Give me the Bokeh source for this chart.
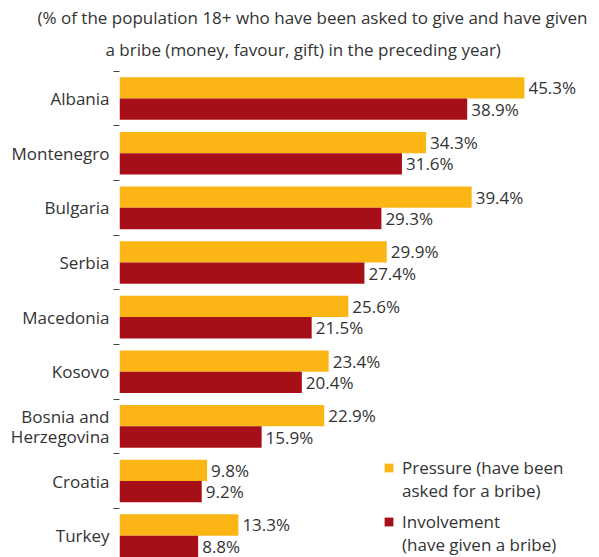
from bokeh.plotting import figure
from bokeh.models import (ColumnDataSource, Range1d, FixedTicker, Title, Legend, LegendItem)
from bokeh.transform import dodge
from bokeh.core.properties import value
from bokeh.embed import file_html
from bokeh.resources import INLINE

countries = ["Albania", "Montenegro", "Bulgaria", "Serbia", "Macedonia", "Kosovo",
             "Bosnia and\nHerzegovina", "Croatia", "Turkey"]
pressure = [45.3, 34.3, 39.4, 29.9, 25.6, 23.4, 22.9, 9.8, 13.3]
involvement = [38.9, 31.6, 29.3, 27.4, 21.5, 20.4, 15.9, 9.2, 8.8]
series_lines = [["Pressure (have been", "asked for a bribe)"],
                ["Involvement", "(have given a bribe)"]]
title_lines = ["(% of the population 18+ who have been asked to give and have given",
               "a bribe (money, favour, gift) in the preceding year)"]

YELLOW = "#FBB616"
RED = "#A70F18"
TXT = "#333333"
FONT = "Open Sans"
FS = "17px"

n = len(countries)
ypos = [n - i - 0.5 for i in range(n)]
src = ColumnDataSource(dict(
    y=ypos, pressure=pressure, involvement=involvement,
    plab=[f"{v:.1f}%" for v in pressure],
    ilab=[f"{v:.1f}%" for v in involvement],
))

BH = 0.39
p = figure(width=599, height=557, output_backend="svg", toolbar_location=None,
           x_range=Range1d(0, 53.7), y_range=Range1d(0.1, 9.05),
           min_border_left=119, min_border_right=0, min_border_top=68, min_border_bottom=0)
p.outline_line_color = None
p.xgrid.visible = False
p.ygrid.visible = False
p.xaxis.visible = False

rp = p.hbar(y=dodge("y", BH / 2, range=p.y_range), right="pressure", left=0, height=BH,
            source=src, fill_color=YELLOW, line_color=None)
ri = p.hbar(y=dodge("y", -BH / 2, range=p.y_range), right="involvement", left=0, height=BH,
            source=src, fill_color=RED, line_color=None)
# invisible renderer used only for the second line of each legend entry
blank = p.hbar(y=[], right=[], left=0, height=BH, fill_alpha=0, line_alpha=0)

p.text(x="pressure", y=dodge("y", BH / 2, range=p.y_range), text="plab", source=src,
       x_offset=4, text_baseline="middle", text_align="left",
       text_font=value(FONT), text_font_size=FS, text_color=TXT)
p.text(x="involvement", y=dodge("y", -BH / 2, range=p.y_range), text="ilab", source=src,
       x_offset=4, text_baseline="middle", text_align="left",
       text_font=value(FONT), text_font_size=FS, text_color=TXT)

ax = p.yaxis[0]
ax.ticker = FixedTicker(ticks=ypos, minor_ticks=list(range(n + 1)))
ax.major_label_overrides = {y: c for y, c in zip(ypos, countries)}
ax.axis_line_color = None
ax.major_tick_line_color = None
ax.major_tick_out = 0
ax.major_tick_in = 0
ax.minor_tick_out = 6
ax.minor_tick_in = 0
ax.minor_tick_line_color = "#444444"
ax.minor_tick_line_width = 1
ax.major_label_standoff = 4
ax.major_label_text_font = FONT
ax.major_label_text_font_size = FS
ax.major_label_text_color = TXT
ax.major_label_text_align = "right"
ax.major_label_text_line_height = 0.85

p.add_layout(Title(text=title_lines[1], align="left", offset=-14, standoff=15,
                   text_font=FONT, text_font_size=FS, text_color=TXT,
                   text_font_style="normal"), "above")
p.add_layout(Title(text=title_lines[0], align="left", offset=-82, standoff=0,
                   text_font=FONT, text_font_size=FS, text_color=TXT,
                   text_font_style="normal"), "above")

common = dict(orientation="vertical", glyph_width=11, glyph_height=11, label_standoff=8,
              spacing=0, padding=0, margin=0, border_line_color=None,
              background_fill_alpha=0, label_text_font=FONT, label_text_font_size=FS,
              label_text_color=TXT, label_height=23)
leg1 = Legend(items=[LegendItem(label=series_lines[0][0], renderers=[rp]),
                     LegendItem(label=series_lines[0][1], renderers=[blank])],
              location=(264, 55), **common)
leg2 = Legend(items=[LegendItem(label=series_lines[1][0], renderers=[ri]),
                     LegendItem(label=series_lines[1][1], renderers=[blank])],
              location=(264, 1), **common)
p.add_layout(leg1)
p.add_layout(leg2)

open("out.html", "w").write(file_html(p, INLINE))
